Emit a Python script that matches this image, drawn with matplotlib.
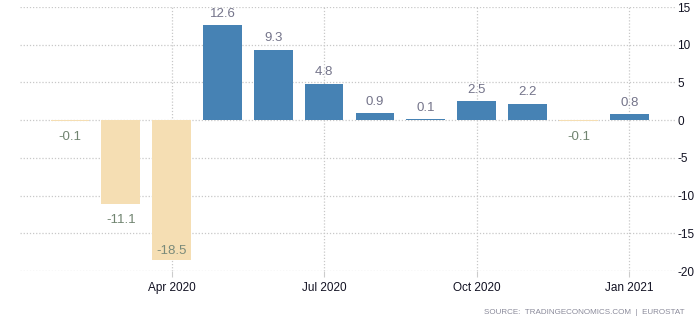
import matplotlib
matplotlib.use("Agg")
import matplotlib.pyplot as plt

plt.rcParams["font.family"] = ["Liberation Sans", "DejaVu Sans"]

months = ["Feb 2020", "Mar 2020", "Apr 2020", "May 2020", "Jun 2020", "Jul 2020",
          "Aug 2020", "Sep 2020", "Oct 2020", "Nov 2020", "Dec 2020", "Jan 2021"]
values = [-0.1, -11.1, -18.5, 12.6, 9.3, 4.8, 0.9, 0.1, 2.5, 2.2, -0.1, 0.8]
tick_labels = ["Apr 2020", "Jul 2020", "Oct 2020", "Jan 2021"]
y_ticks = [15, 10, 5, 0, -5, -10, -15, -20]
source = "SOURCE:  TRADINGECONOMICS.COM  |  EUROSTAT"

pos_color = "#4682B4"
neg_color = "#F5DEB3"

fig = plt.figure(figsize=(6.97, 3.22), dpi=100)
ax = fig.add_axes([20 / 697, 1 - 271 / 322, (675 - 20) / 697, (271 - 7) / 322])

x = list(range(len(values)))
colors = [pos_color if v >= 0 else neg_color for v in values]
ax.bar(x, values, width=0.76, color=colors, zorder=3)

ax.set_ylim(-20, 15)
ax.set_xlim(-0.98, 11.9)

for xi, v in zip(x, values):
    if v >= 0:
        ax.annotate(f"{v:.1f}", (xi, v), xytext=(0, 4), textcoords="offset points",
                    ha="center", va="bottom", fontsize=9.5, color="#74748a", zorder=4)
    else:
        if v - 3.5 < -20:
            ax.annotate(f"{v:.1f}", (xi, v), xytext=(0, 2), textcoords="offset points",
                        ha="center", va="bottom", fontsize=9.5, color="#7a8a7a", zorder=4)
        else:
            ax.annotate(f"{v:.1f}", (xi, v), xytext=(0, -7), textcoords="offset points",
                        ha="center", va="top", fontsize=9.5, color="#708470", zorder=4)

tick_pos = [months.index(t) for t in tick_labels]
ax.set_xticks(tick_pos)
ax.set_xticklabels(tick_labels, fontsize=8.5, color="#111122")
ax.set_yticks(y_ticks)
ax.set_yticklabels([str(t) for t in y_ticks], fontsize=8.5, color="#111122")
ax.yaxis.tick_right()
ax.tick_params(axis="y", length=0, pad=1.5)
ax.tick_params(axis="x", length=4, color="#cccccc", pad=4)

ax.grid(True, which="major", axis="both", linestyle=(0, (1, 1.5)), color="#c8c8c8",
        linewidth=0.9, zorder=0)
for s in ax.spines.values():
    s.set_visible(False)

fig.text(685 / 697, 1 - 313 / 322, source, ha="right", va="center",
         fontsize=5.8, color="#8a8a9a")

fig.savefig("out.png", dpi=100)
